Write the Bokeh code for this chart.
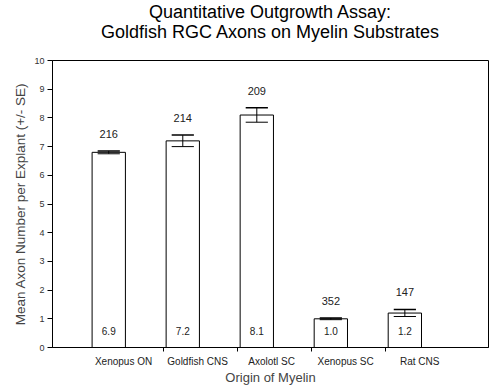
from bokeh.plotting import figure
from bokeh.models import FixedTicker, Div, ColumnDataSource
from bokeh.layouts import column
from bokeh.core.properties import value
from bokeh.embed import file_html
from bokeh.resources import INLINE

categories = ["Xenopus ON", "Goldfish CNS", "Axolotl SC", "Xenopus SC", "Rat CNS"]
means = [6.8, 7.2, 8.1, 1.0, 1.2]
se = [0.05, 0.2, 0.25, 0.03, 0.12]
n_counts = ["216", "214", "209", "352", "147"]
value_labels = ["6.9", "7.2", "8.1", "1.0", "1.2"]
y_ticks = [0, 1, 2, 3, 4, 5, 6, 7, 8, 9, 10]
title_lines = ["Quantitative Outgrowth Assay:", "Goldfish RGC Axons on Myelin Substrates"]

FONT = "Liberation Sans"
xs = [i + 1 for i in range(len(categories))]

W, H = 500, 387
BL, BR = 52, 12
TITLE_H = 52

title_div = Div(
    text=("<div style=\"text-align:center;font-family:'Liberation Sans',Arial,sans-serif;"
          "font-size:18px;line-height:20px;color:black;width:%dpx;margin-left:%dpx;"
          "padding-top:2px;white-space:nowrap\">%s<br>%s</div>")
         % (W - BL - BR, BL, title_lines[0], title_lines[1]),
    width=W, height=TITLE_H, margin=0)

p = figure(width=W, height=H - TITLE_H, output_backend="svg", toolbar_location=None,
           x_range=(0.24, 6.13), y_range=(0, 10),
           min_border_left=BL, min_border_right=BR, min_border_top=8, min_border_bottom=4,
           margin=0)
p.title = None
p.xgrid.visible = False
p.ygrid.visible = False
p.outline_line_color = "black"
p.outline_line_width = 1
p.background_fill_color = "white"
p.border_fill_color = "white"

src = ColumnDataSource(dict(
    x=xs, top=means,
    lo=[m - s for m, s in zip(means, se)],
    hi=[m + s for m, s in zip(means, se)],
    cl=[x - 0.15 for x in xs], cr=[x + 0.15 for x in xs],
    ny=[m + s + 0.6 for m, s in zip(means, se)],
    n=n_counts, vl=value_labels,
    vy=[0.56] * len(xs),
))

p.vbar(x="x", top="top", bottom=0, width=0.45, source=src,
       fill_color="white", line_color="black", line_width=1)
p.segment(x0="x", x1="x", y0="lo", y1="hi", source=src, line_color="black", line_width=1)
p.segment(x0="cl", x1="cr", y0="hi", y1="hi", source=src, line_color="black", line_width=1.5)
p.segment(x0="cl", x1="cr", y0="lo", y1="lo", source=src, line_color="black", line_width=1)

p.text(x="x", y="ny", text="n", source=src, text_align="center", text_baseline="middle",
       text_font=value(FONT), text_font_size="11px", text_color="#222")
p.text(x="x", y="vy", text="vl", source=src, text_align="center", text_baseline="middle",
       text_font=value(FONT), text_font_size="10px", text_color="#222")

# x axis
label_pos = [x + 0.2 for x in xs]
p.xaxis.ticker = FixedTicker(ticks=label_pos, minor_ticks=[x + 0.74 for x in xs[:-1]])
p.xaxis.major_label_overrides = {lp: c for lp, c in zip(label_pos, categories)}
p.xaxis.major_tick_line_color = None
p.xaxis.minor_tick_out = 4
p.xaxis.minor_tick_in = 0
p.xaxis.minor_tick_line_color = "black"
p.xaxis.axis_line_color = "black"
p.xaxis.major_label_text_font = FONT
p.xaxis.major_label_text_font_size = "10px"
p.xaxis.major_label_text_color = "#222"
p.xaxis.major_label_standoff = 2
p.xaxis.axis_label = "Origin of Myelin"
p.xaxis.axis_label_text_font = FONT
p.xaxis.axis_label_text_font_size = "13px"
p.xaxis.axis_label_text_font_style = "normal"
p.xaxis.axis_label_standoff = 0

# y axis
p.yaxis.ticker = FixedTicker(ticks=y_ticks)
p.yaxis.minor_tick_line_color = None
p.yaxis.major_tick_out = 5
p.yaxis.major_tick_in = 0
p.yaxis.axis_line_color = "black"
p.yaxis.major_label_text_font = FONT
p.yaxis.major_label_text_font_size = "9px"
p.yaxis.major_label_text_color = "#333"
p.yaxis.major_label_standoff = 3
p.yaxis.axis_label = "Mean Axon Number per Explant (+/- SE)"
p.yaxis.axis_label_text_font = FONT
p.yaxis.axis_label_text_font_size = "13.5px"
p.yaxis.axis_label_text_font_style = "normal"
p.yaxis.axis_label_standoff = 3

layout = column(title_div, p, spacing=0, margin=0)
open("out.html", "w").write(file_html(layout, INLINE))
